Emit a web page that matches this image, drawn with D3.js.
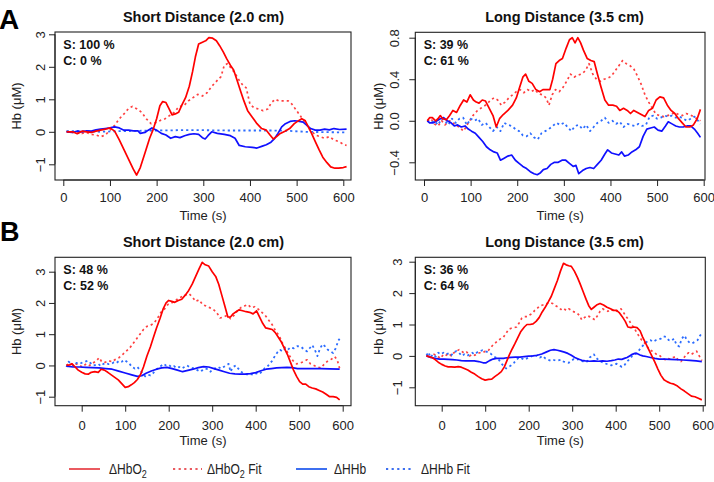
<!DOCTYPE html>
<html><head><meta charset="utf-8">
<script src="https://cdn.jsdelivr.net/npm/d3@7"></script>
<style>
html,body{margin:0;padding:0;background:#fff;}
svg{display:block;font-family:"Liberation Sans",Arial,Helvetica,sans-serif;}
</style></head>
<body>
<svg id="chart" width="714" height="482"></svg>
<script>
// ---------- DATA ----------
const panelTitles = ["Short Distance (2.0 cm)", "Long Distance (3.5 cm)", "Short Distance (2.0 cm)", "Long Distance (3.5 cm)"];
const panelLetters = ["A", "B"];
const sLabels = ["S: 100 %", "S: 39 %", "S: 48 %", "S: 36 %"];
const cLabels = ["C: 0 %", "C: 61 %", "C: 52 %", "C: 64 %"];
const xTicks = [0, 100, 200, 300, 400, 500, 600];
const yTicksAL = [-1, 0, 1, 2, 3];
const yTicksAR = [-0.4, 0.0, 0.4, 0.8];
const yTicksBL = [-1, 0, 1, 2, 3];
const yTicksBR = [-1, 0, 1, 2, 3];
const legendLabels = ["ΔHbO2", "ΔHbO2 Fit", "ΔHHb", "ΔHHb Fit"];

// Panel A, short distance
const aShortHbO2 = [[7,0],[20,0],[30,-0.06],[40,0.02],[50,0],[60,-0.02],[70,0.02],[80,0.05],[90,0.08],[100,0.12],[110,0.02],[120,-0.25],[130,-0.55],[140,-0.85],[150,-1.15],[157,-1.33],[165,-1.1],[175,-0.65],[185,-0.2],[192,0.05],[200,0.4],[207,0.8],[213,0.93],[220,0.9],[227,0.7],[233,0.52],[240,0.55],[247,0.6],[255,0.85],[262,1.05],[270,1.4],[277,1.85],[283,2.3],[290,2.7],[297,2.75],[305,2.8],[312,2.9],[320,2.88],[328,2.8],[335,2.65],[343,2.45],[350,2.25],[358,2.05],[365,1.9],[372,1.6],[380,1.25],[387,0.95],[395,0.65],[405,0.45],[415,0.25],[425,0.1],[435,0.05],[443,-0.1],[450,-0.22],[457,-0.15],[465,-0.05],[475,0.02],[485,0.1],[495,0.25],[505,0.35],[511,0.4],[518,0.35],[525,0.15],[532,-0.05],[540,-0.3],[548,-0.55],[556,-0.78],[565,-0.95],[573,-1.08],[582,-1.12],[590,-1.12],[600,-1.1],[607,-1.07]];
const aShortHbO2Fit = [[7,0.02],[20,-0.02],[30,0],[40,-0.05],[50,-0.02],[60,-0.08],[70,-0.1],[80,-0.15],[90,-0.1],[100,0.05],[110,0.2],[120,0.4],[130,0.55],[140,0.72],[148,0.78],[158,0.7],[168,0.6],[178,0.4],[188,0.25],[198,0.28],[208,0.35],[218,0.4],[228,0.5],[238,0.6],[248,0.78],[258,0.8],[268,0.95],[278,1.05],[288,1.15],[298,1.1],[308,1.2],[318,1.4],[328,1.55],[338,1.7],[345,2.05],[352,2.1],[360,1.95],[368,1.8],[376,1.6],[384,1.45],[392,1.35],[400,0.85],[408,0.75],[418,0.7],[428,0.65],[438,0.7],[446,0.9],[454,1.0],[462,0.95],[472,0.95],[482,0.95],[490,0.85],[500,0.65],[510,0.45],[520,0.25],[530,0.05],[540,-0.1],[550,-0.15],[560,-0.2],[570,-0.15],[580,-0.25],[590,-0.3],[600,-0.38],[607,-0.42]];
const aShortHHb = [[7,0],[20,-0.02],[30,0.02],[40,0],[50,0.03],[60,0.02],[70,0.06],[80,0.08],[90,0.1],[100,0.12],[110,0.15],[120,0.12],[130,0.05],[140,0.05],[150,0.03],[160,0.03],[165,-0.05],[175,-0.02],[182,0.05],[190,0.12],[200,0.05],[210,-0.05],[220,-0.1],[230,-0.2],[240,-0.15],[250,-0.18],[260,-0.12],[270,-0.08],[280,-0.06],[290,-0.08],[298,-0.18],[304,-0.22],[310,-0.12],[318,0],[330,-0.05],[345,-0.08],[358,-0.12],[368,-0.2],[377,-0.42],[390,-0.46],[405,-0.48],[415,-0.5],[425,-0.45],[435,-0.4],[445,-0.32],[452,-0.22],[460,-0.05],[468,0.15],[476,0.25],[486,0.32],[496,0.34],[506,0.32],[514,0.3],[522,0.2],[530,0.1],[540,0.05],[550,0.05],[560,0.08],[570,0.06],[580,0.1],[592,0.07],[607,0.08]];
const aShortHHbFit = [[7,0.02],[40,0.02],[80,0.0],[120,0.02],[160,0.03],[200,0.04],[250,0.05],[300,0.05],[350,0.04],[400,0.04],[450,0.04],[480,0.03],[520,0.0],[560,-0.01],[607,-0.02]];

// Panel A, long distance
const aLongHbO2 = [[7,0],[12,0.03],[18,0.03],[25,0],[30,0.02],[35,0.05],[40,0.02],[48,0.01],[55,0.05],[62,0.1],[70,0.08],[78,0.15],[85,0.2],[92,0.18],[99,0.25],[106,0.2],[112,0.18],[118,0.17],[125,0.2],[132,0.19],[140,0.12],[148,0.05],[155,-0.06],[162,0.02],[170,0.06],[180,0.1],[190,0.15],[198,0.22],[205,0.32],[212,0.42],[218,0.45],[225,0.38],[232,0.36],[240,0.3],[248,0.28],[255,0.3],[262,0.3],[270,0.3],[276,0.4],[283,0.55],[290,0.58],[297,0.6],[305,0.7],[312,0.78],[318,0.8],[324,0.75],[330,0.8],[336,0.75],[342,0.68],[350,0.6],[358,0.58],[365,0.57],[372,0.45],[380,0.32],[388,0.2],[396,0.15],[405,0.15],[413,0.14],[420,0.1],[428,0.12],[436,0.1],[443,0.07],[450,0.1],[458,0.08],[466,0.06],[474,0.04],[482,0.1],[490,0.12],[498,0.2],[506,0.23],[514,0.22],[522,0.15],[530,0.1],[538,0.07],[546,0.02],[554,-0.02],[562,-0.06],[570,-0.06],[578,-0.04],[586,0.02],[593,0.11]];
const aLongHbO2Fit = [[7,0],[15,0.02],[22,-0.03],[30,-0.05],[38,0],[45,-0.04],[55,0],[65,-0.03],[75,-0.06],[85,-0.1],[95,-0.02],[105,0.05],[115,0.1],[125,0.13],[135,0.16],[143,0.2],[150,0.22],[158,0.2],[166,0.15],[174,0.18],[182,0.22],[190,0.25],[198,0.28],[206,0.3],[214,0.27],[222,0.3],[230,0.28],[238,0.3],[246,0.26],[254,0.25],[262,0.22],[268,0.15],[275,0.25],[282,0.3],[290,0.28],[298,0.32],[306,0.38],[314,0.45],[322,0.42],[330,0.44],[338,0.45],[346,0.48],[354,0.55],[362,0.45],[370,0.4],[378,0.38],[386,0.4],[394,0.41],[402,0.43],[410,0.48],[418,0.53],[426,0.58],[434,0.55],[442,0.53],[450,0.5],[458,0.43],[466,0.35],[474,0.25],[482,0.18],[490,0.12],[498,0.06],[506,0.05],[514,0.04],[522,0.05],[530,0.06],[538,0.08],[546,0.06],[554,0.05],[562,0.07],[570,0.06],[578,0.04],[586,0.02],[593,0.0]];
const aLongHHb = [[7,0],[12,-0.02],[20,-0.02],[28,0.0],[35,0.02],[42,0.03],[50,0.0],[58,-0.02],[65,-0.05],[72,-0.04],[80,-0.06],[88,-0.05],[95,-0.08],[102,-0.1],[110,-0.12],[118,-0.16],[126,-0.2],[134,-0.25],[142,-0.28],[150,-0.3],[157,-0.31],[164,-0.38],[172,-0.36],[180,-0.34],[188,-0.33],[196,-0.38],[204,-0.41],[212,-0.44],[220,-0.46],[228,-0.49],[236,-0.51],[243,-0.52],[250,-0.5],[256,-0.47],[264,-0.46],[272,-0.42],[280,-0.4],[288,-0.4],[296,-0.38],[304,-0.38],[312,-0.41],[320,-0.44],[326,-0.43],[332,-0.51],[340,-0.48],[348,-0.46],[356,-0.45],[364,-0.46],[372,-0.42],[380,-0.38],[388,-0.32],[394,-0.28],[402,-0.31],[410,-0.32],[418,-0.33],[424,-0.3],[430,-0.34],[438,-0.33],[446,-0.3],[454,-0.28],[462,-0.25],[470,-0.15],[478,-0.08],[486,-0.07],[494,-0.06],[502,-0.09],[510,-0.1],[518,-0.05],[524,-0.01],[532,-0.03],[540,-0.05],[548,-0.06],[556,-0.06],[564,-0.05],[572,-0.05],[580,-0.08],[587,-0.12],[593,-0.16]];
const aLongHHbFit = [[7,0],[15,-0.02],[22,0],[30,-0.04],[38,0.02],[45,0.0],[52,-0.04],[60,0.02],[68,-0.02],[76,0.02],[84,0.03],[92,-0.04],[100,0.02],[108,0.0],[116,0.02],[124,-0.04],[132,-0.02],[140,-0.06],[148,-0.1],[156,-0.06],[164,-0.1],[172,-0.02],[180,-0.04],[188,-0.05],[196,-0.08],[204,-0.1],[212,-0.14],[220,-0.15],[228,-0.12],[236,-0.16],[244,-0.18],[252,-0.12],[260,-0.1],[268,-0.08],[276,-0.05],[284,-0.02],[292,-0.04],[300,-0.02],[308,-0.06],[316,-0.1],[324,-0.05],[332,-0.04],[340,-0.08],[348,-0.04],[356,-0.1],[364,-0.06],[372,-0.02],[380,0.0],[388,0.03],[396,-0.02],[404,0.0],[412,-0.03],[420,-0.01],[428,-0.06],[436,-0.03],[444,-0.04],[452,-0.05],[460,-0.03],[468,-0.05],[476,-0.04],[484,0.04],[492,0.05],[500,0.02],[508,0.03],[516,0.05],[524,0.04],[532,0.05],[540,0.03],[548,0.04],[556,0.02],[564,0.0],[572,0.02],[580,0.04],[588,0.0],[593,-0.03]];

// Panel B, short distance
const bShortHbO2 = [[-35,0],[-28,0.02],[-22,0.05],[-15,-0.05],[-8,-0.15],[0,-0.22],[8,-0.27],[15,-0.28],[22,-0.22],[30,-0.2],[38,-0.22],[45,-0.12],[52,-0.15],[60,-0.22],[68,-0.3],[76,-0.38],[84,-0.46],[92,-0.58],[100,-0.7],[107,-0.68],[114,-0.62],[121,-0.55],[128,-0.45],[135,-0.3],[142,-0.05],[150,0.3],[158,0.6],[165,0.9],[172,1.2],[180,1.5],[187,1.8],[194,2.0],[200,2.08],[207,2.05],[214,2.02],[222,2.08],[230,2.12],[238,2.25],[246,2.4],[254,2.6],[262,2.85],[270,3.1],[277,3.3],[284,3.22],[292,3.18],[300,3.0],[308,2.85],[315,2.6],[322,2.25],[329,1.9],[336,1.55],[342,1.55],[348,1.65],[355,1.72],[362,1.78],[370,1.75],[378,1.72],[386,1.7],[394,1.65],[402,1.75],[409,1.55],[416,1.35],[423,1.2],[430,1.18],[438,1.15],[445,1.05],[452,0.9],[459,0.75],[466,0.55],[473,0.35],[480,0.1],[487,-0.15],[494,-0.35],[501,-0.52],[508,-0.6],[515,-0.6],[522,-0.68],[530,-0.72],[538,-0.75],[546,-0.8],[554,-0.85],[562,-0.92],[570,-1.0],[578,-1.0],[586,-1.02],[593,-1.1]];
const bShortHbO2Fit = [[-35,0],[-28,0.08],[-20,0.02],[-12,0.05],[-5,0.0],[2,-0.05],[10,0.05],[18,0.0],[26,0.08],[34,0.15],[40,0.25],[46,0.12],[54,0.1],[62,0.15],[70,0.12],[78,0.2],[86,0.25],[94,0.35],[102,0.45],[110,0.55],[118,0.7],[126,0.85],[134,1.0],[142,1.15],[150,1.25],[158,1.28],[166,1.35],[174,1.5],[182,1.7],[190,1.8],[198,1.95],[206,2.0],[214,2.05],[222,2.15],[230,2.2],[238,2.25],[246,2.3],[254,2.2],[262,2.05],[270,2.1],[278,1.95],[286,1.9],[294,1.85],[302,1.8],[310,1.7],[318,1.52],[326,1.55],[334,1.6],[342,1.5],[350,1.6],[358,1.75],[366,1.85],[374,1.9],[382,1.95],[390,1.85],[398,1.88],[406,1.8],[414,1.7],[422,1.6],[430,1.45],[438,1.3],[446,1.1],[454,0.95],[462,0.7],[470,0.5],[478,0.3],[486,0.15],[494,0.05],[502,0.08],[510,0.12],[518,0.18],[526,0.05],[534,0.0],[542,-0.05],[550,-0.08],[558,0.05],[566,0.15],[574,0.2],[582,0.28],[588,0.15],[593,-0.1]];
const bShortHHb = [[-35,-0.02],[-20,-0.05],[-5,-0.05],[10,-0.06],[25,-0.07],[40,-0.08],[55,-0.1],[70,-0.12],[85,-0.18],[100,-0.24],[115,-0.3],[128,-0.35],[138,-0.33],[148,-0.25],[160,-0.18],[172,-0.12],[184,-0.08],[196,-0.06],[208,-0.1],[220,-0.15],[232,-0.2],[244,-0.16],[256,-0.12],[268,-0.07],[280,-0.04],[292,-0.05],[304,-0.1],[316,-0.15],[328,-0.2],[340,-0.25],[352,-0.27],[364,-0.28],[376,-0.28],[388,-0.26],[400,-0.23],[412,-0.17],[424,-0.12],[436,-0.1],[448,-0.08],[460,-0.07],[472,-0.06],[484,-0.07],[496,-0.1],[510,-0.1],[530,-0.1],[550,-0.1],[570,-0.11],[593,-0.12]];
const bShortHHbFit = [[-35,-0.05],[-30,0.12],[-24,0.05],[-18,-0.02],[-12,0.08],[-5,0.05],[2,0.1],[8,0.12],[14,0.15],[20,0.08],[26,0.0],[32,0.02],[38,0.05],[44,-0.02],[50,0.05],[56,0.08],[62,0.04],[68,0.05],[74,0.1],[80,0.08],[86,0.15],[92,0.12],[98,0.18],[104,0.12],[110,0.05],[116,-0.05],[122,-0.1],[128,-0.05],[134,-0.15],[140,-0.25],[146,-0.35],[152,-0.3],[158,-0.32],[164,-0.25],[170,-0.15],[176,-0.08],[182,-0.02],[188,0.05],[194,0.0],[200,0.02],[206,-0.05],[212,-0.02],[218,-0.08],[224,-0.05],[230,-0.1],[236,-0.05],[242,0.0],[248,-0.05],[254,-0.08],[260,-0.1],[266,-0.15],[272,-0.2],[278,-0.15],[284,-0.1],[290,-0.12],[296,-0.2],[302,-0.12],[308,-0.08],[314,-0.05],[320,-0.1],[326,-0.05],[332,0.0],[338,0.05],[342,-0.2],[348,-0.05],[354,0.0],[360,-0.1],[366,-0.2],[372,-0.25],[378,-0.28],[384,-0.3],[390,-0.28],[396,-0.3],[402,-0.25],[408,-0.28],[414,-0.2],[420,-0.1],[426,-0.05],[432,0.05],[438,0.15],[444,0.3],[450,0.42],[456,0.5],[462,0.45],[468,0.55],[474,0.5],[480,0.58],[488,0.55],[496,0.62],[504,0.6],[512,0.5],[518,0.45],[524,0.55],[530,0.65],[536,0.5],[542,0.3],[548,0.55],[554,0.68],[560,0.6],[566,0.5],[572,0.45],[578,0.4],[584,0.55],[590,0.8],[593,0.85]];

// Panel B, long distance
const bLongHbO2 = [[-35,0],[-28,-0.03],[-22,-0.05],[-15,-0.12],[-8,-0.2],[0,-0.27],[8,-0.32],[15,-0.35],[22,-0.35],[30,-0.36],[38,-0.34],[45,-0.36],[52,-0.4],[60,-0.45],[68,-0.52],[76,-0.58],[84,-0.66],[92,-0.73],[100,-0.77],[108,-0.75],[115,-0.74],[122,-0.66],[130,-0.58],[137,-0.5],[144,-0.35],[150,-0.15],[156,0.05],[162,0.22],[168,0.38],[175,0.58],[182,0.78],[190,0.92],[196,1.0],[203,1.0],[210,1.02],[217,1.1],[224,1.22],[231,1.4],[238,1.55],[245,1.72],[252,1.9],[259,2.15],[266,2.4],[273,2.7],[280,2.95],[286,2.9],[292,2.87],[298,2.85],[305,2.7],[312,2.5],[318,2.3],[325,2.05],[332,1.8],[338,1.6],[344,1.48],[350,1.55],[356,1.62],[364,1.67],[372,1.62],[380,1.55],[388,1.5],[395,1.45],[402,1.45],[408,1.38],[415,1.25],[422,1.1],[428,0.92],[435,0.9],[442,0.92],[449,0.9],[456,0.8],[462,0.6],[469,0.4],[476,0.2],[483,0.0],[490,-0.2],[497,-0.42],[504,-0.62],[511,-0.76],[518,-0.82],[526,-0.87],[534,-0.9],[542,-0.96],[550,-1.05],[558,-1.12],[566,-1.2],[574,-1.28],[582,-1.3],[590,-1.35],[598,-1.4]];
const bLongHbO2Fit = [[-35,0],[-30,0.05],[-25,-0.05],[-18,0.05],[-10,0.0],[-3,-0.08],[4,0.05],[10,0.02],[16,0.08],[22,0.0],[28,0.1],[34,0.15],[40,0.2],[46,0.15],[52,0.08],[58,0.12],[64,0.0],[70,0.05],[76,0.02],[82,0.08],[88,0.1],[94,0.1],[100,0.15],[106,0.15],[112,0.25],[118,0.35],[124,0.42],[130,0.5],[136,0.55],[142,0.6],[148,0.72],[154,0.85],[160,0.88],[166,0.9],[172,0.92],[178,1.05],[184,1.2],[190,1.25],[196,1.25],[202,1.3],[208,1.35],[214,1.45],[220,1.52],[226,1.6],[232,1.62],[238,1.65],[244,1.68],[250,1.7],[256,1.66],[262,1.6],[268,1.55],[274,1.48],[280,1.52],[286,1.45],[292,1.5],[298,1.45],[304,1.4],[310,1.38],[316,1.3],[322,1.15],[328,1.22],[334,1.28],[340,1.25],[346,1.2],[352,1.15],[358,1.28],[364,1.42],[370,1.5],[376,1.45],[382,1.42],[388,1.48],[394,1.45],[400,1.4],[406,1.48],[412,1.5],[418,1.38],[424,1.25],[430,1.15],[436,1.0],[442,0.9],[448,0.75],[454,0.62],[460,0.5],[466,0.42],[472,0.3],[478,0.2],[484,0.15],[490,0.1],[496,0.02],[502,0.0],[508,-0.08],[514,-0.12],[520,-0.08],[526,-0.1],[532,-0.05],[538,-0.02],[544,-0.15],[550,-0.18],[556,-0.08],[562,0.05],[568,0.1],[574,0.05],[580,0.1],[586,0.15],[592,0.0],[598,-0.15]];
const bLongHHb = [[-35,0],[-25,-0.05],[-15,-0.08],[-5,-0.1],[5,-0.1],[15,-0.11],[25,-0.12],[35,-0.13],[45,-0.15],[55,-0.16],[65,-0.16],[75,-0.16],[85,-0.18],[95,-0.22],[102,-0.22],[110,-0.15],[118,-0.1],[126,-0.08],[134,-0.08],[142,-0.08],[150,-0.06],[160,-0.05],[170,-0.04],[180,-0.04],[190,-0.02],[200,-0.01],[210,0.0],[220,0.02],[230,0.06],[240,0.12],[250,0.18],[258,0.2],[266,0.18],[274,0.15],[282,0.12],[290,0.08],[298,0.02],[306,-0.05],[314,-0.1],[322,-0.14],[330,-0.16],[340,-0.17],[350,-0.16],[360,-0.17],[370,-0.16],[380,-0.17],[390,-0.15],[398,-0.13],[406,-0.1],[414,-0.11],[420,-0.08],[426,-0.05],[432,0.0],[438,0.05],[444,0.08],[450,0.07],[456,0.03],[462,0.0],[470,-0.02],[480,-0.05],[490,-0.08],[500,-0.1],[512,-0.1],[525,-0.11],[540,-0.12],[555,-0.13],[570,-0.14],[585,-0.16],[598,-0.18]];
const bLongHHbFit = [[-35,0.02],[-30,0.12],[-26,-0.05],[-20,0.05],[-14,-0.02],[-8,0.1],[-2,0.05],[4,0.1],[10,0.05],[16,0.08],[22,0.02],[28,0.12],[34,0.15],[40,0.1],[46,0.0],[52,0.05],[58,0.0],[64,0.05],[70,0.1],[76,0.05],[82,0.12],[88,0.15],[94,0.18],[100,0.15],[106,0.12],[112,0.08],[118,0.0],[124,-0.05],[130,-0.1],[136,-0.22],[142,-0.32],[148,-0.4],[154,-0.35],[160,-0.3],[166,-0.22],[172,-0.12],[178,-0.05],[184,-0.08],[190,-0.12],[196,-0.08],[202,-0.05],[208,0.0],[214,-0.02],[220,0.02],[226,-0.05],[232,0.0],[238,-0.08],[244,-0.12],[250,-0.15],[256,-0.12],[262,-0.15],[268,-0.14],[274,-0.12],[280,-0.18],[286,-0.2],[292,-0.22],[298,-0.15],[304,-0.1],[310,-0.12],[316,-0.1],[322,-0.15],[328,-0.2],[334,-0.18],[340,-0.05],[346,0.0],[350,0.05],[354,-0.05],[360,-0.12],[366,-0.18],[372,-0.22],[378,-0.25],[384,-0.28],[390,-0.3],[396,-0.27],[402,-0.25],[408,-0.3],[414,-0.35],[420,-0.3],[426,-0.18],[432,-0.1],[438,0.0],[444,0.05],[450,0.12],[456,0.22],[462,0.32],[468,0.4],[474,0.48],[480,0.5],[486,0.45],[492,0.5],[498,0.52],[504,0.55],[510,0.62],[516,0.6],[522,0.5],[528,0.48],[534,0.55],[540,0.35],[546,0.3],[552,0.55],[558,0.65],[564,0.5],[570,0.42],[576,0.4],[582,0.45],[588,0.5],[594,0.65],[598,0.72]];

// ---------- LAYOUT ----------
const svg = d3.select("#chart");
const FONT = '"Liberation Sans",Arial,Helvetica,sans-serif';
const col = {
  hbo2: "#ff0000", hbo2Fit: "#ff4040", hhb: "#1010ff", hhbFit: "#2c6cff",
  legRed: "#ea5a60", legBlue: "#3d6ff0"
};

const panels = [
  { box:[55,32,351,180], xr:[63.3,343.3], yd:[-1,3], yr:[164.3,34.3], yt:yTicksAL, dec:0,
    tickX:45, labX:21, txtX:63.3, sY:49, xLabY:201.7, timeY:219.5, titleX:203.5, titleY:21.5,
    series:[aShortHbO2, aShortHbO2Fit, aShortHHb, aShortHHbFit] },
  { box:[415.3,32.3,705,180], xr:[424,703.7], yd:[-0.4,0.8], yr:[162.3,37.7], yt:yTicksAR, dec:1,
    tickX:398.7, labX:382.6, txtX:423.7, sY:49, xLabY:201.7, timeY:219.5, titleX:564.5, titleY:21.5,
    series:[aLongHbO2, aLongHbO2Fit, aLongHHb, aLongHHbFit] },
  { box:[55,257.3,351,405.7], xr:[81.7,342.7], yd:[-1,3], yr:[396.7,271.7], yt:yTicksBL, dec:0,
    tickX:45, labX:21, txtX:63.3, sY:274.3, xLabY:430, timeY:444.5, titleX:203.5, titleY:246.5,
    series:[bShortHbO2, bShortHbO2Fit, bShortHHb, bShortHHbFit] },
  { box:[415.3,257.3,705.3,405.7], xr:[441.7,702.7], yd:[-1,3], yr:[387.3,261.7], yt:yTicksBR, dec:0,
    tickX:402, labX:382.6, txtX:423.7, sY:274.3, xLabY:430, timeY:444.5, titleX:564.5, titleY:246.5,
    series:[bLongHbO2, bLongHbO2Fit, bLongHHb, bLongHHbFit] }
];

const styles = [
  { c: col.hbo2, w: 1.7, dash: null },
  { c: col.hbo2Fit, w: 1.7, dash: "2.2,3" },
  { c: col.hhb, w: 1.7, dash: null },
  { c: col.hhbFit, w: 1.8, dash: "2.2,3" }
];
const drawOrder = [1, 3, 2, 0];

panels.forEach((p, i) => {
  const [x0, y0, x1, y1] = p.box;
  const x = d3.scaleLinear().domain([0, 600]).range(p.xr);
  const y = d3.scaleLinear().domain(p.yd).range(p.yr);
  const g = svg.append("g");

  const clipId = "clip" + i;
  svg.append("defs").append("clipPath").attr("id", clipId)
    .append("rect").attr("x", x0).attr("y", y0).attr("width", x1 - x0).attr("height", y1 - y0);

  const line = d3.line().x(d => x(d[0])).y(d => y(d[1]));
  const plot = g.append("g").attr("clip-path", `url(#${clipId})`);
  drawOrder.forEach(k => {
    const st = styles[k];
    plot.append("path").datum(p.series[k])
      .attr("d", line)
      .attr("fill", "none")
      .attr("stroke", st.c)
      .attr("stroke-width", st.w)
      .attr("stroke-linejoin", "round")
      .attr("stroke-dasharray", st.dash);
  });

  // box
  g.append("rect").attr("x", x0).attr("y", y0).attr("width", x1 - x0).attr("height", y1 - y0)
    .attr("fill", "none").attr("stroke", "#222").attr("stroke-width", 1.1);

  // x axis
  const xa = g.append("g").attr("transform", `translate(0,${y1})`)
    .call(d3.axisBottom(x).tickValues(xTicks).tickSize(6).tickSizeOuter(0).tickFormat(d3.format("d")));
  xa.select(".domain").attr("stroke", "#222").attr("d", `M${x(0)},0H${x(600)}`);
  xa.selectAll(".tick line").attr("stroke", "#222");
  xa.selectAll(".tick text").attr("y", null).attr("dy", null)
    .attr("transform", `translate(0,${p.xLabY - y1})`)
    .attr("font-size", 13).attr("font-family", FONT).attr("fill", "#222");

  // y axis
  const yf = v => {
    const s = p.dec ? v.toFixed(1) : String(v);
    return s.replace("-", "\u2212");
  };
  const ya = g.append("g").attr("transform", `translate(${x0},0)`)
    .call(d3.axisLeft(y).tickValues(p.yt).tickSize(6).tickSizeOuter(0).tickFormat(yf));
  ya.select(".domain").attr("stroke", "#222")
    .attr("d", `M0,${y(p.yt[0])}V${y(p.yt[p.yt.length - 1])}`);
  ya.selectAll(".tick line").attr("stroke", "#222");
  ya.selectAll(".tick text")
    .attr("x", null).attr("dy", null)
    .attr("transform", `translate(${p.tickX - x0},0) rotate(-90)`)
    .attr("text-anchor", "middle")
    .attr("font-size", 13).attr("font-family", FONT).attr("fill", "#222");

  // labels
  g.append("text").attr("x", p.titleX).attr("y", p.titleY).attr("text-anchor", "middle")
    .attr("font-size", 14.5).attr("font-weight", "bold").attr("fill", "#111").text(panelTitles[i]);
  g.append("text").attr("x", (x0 + x1) / 2).attr("y", p.timeY).attr("text-anchor", "middle")
    .attr("font-size", 13).attr("fill", "#222").text("Time (s)");
  g.append("text").attr("transform", `translate(${p.labX},${(y0 + y1) / 2}) rotate(-90)`)
    .attr("text-anchor", "middle").attr("font-size", 13).attr("fill", "#222").text("Hb (μM)");
  g.append("text").attr("x", p.txtX).attr("y", p.sY).attr("font-size", 12.5)
    .attr("font-weight", "bold").attr("fill", "#111").text(sLabels[i]);
  g.append("text").attr("x", p.txtX).attr("y", p.sY + 15.5).attr("font-size", 12.5)
    .attr("font-weight", "bold").attr("fill", "#111").text(cLabels[i]);
});

// panel letters
svg.append("text").attr("x", -1).attr("y", 28.5).attr("font-size", 28).attr("font-weight", "bold")
  .attr("fill", "#000").text(panelLetters[0]);
svg.append("text").attr("x", 0).attr("y", 240.5).attr("font-size", 27).attr("font-weight", "bold")
  .attr("fill", "#000").text(panelLetters[1]);

// legend
const legItems = [
  { x1: 69, x2: 100, tx: 109, c: col.legRed, dash: null },
  { x1: 173, x2: 202, tx: 207, c: col.legRed, dash: "2.2,3.4" },
  { x1: 296, x2: 327, tx: 334, c: col.legBlue, dash: null },
  { x1: 386, x2: 413, tx: 421, c: col.legBlue, dash: "2.2,3.4" }
];
const legY = 469;
legItems.forEach((it, i) => {
  svg.append("line").attr("x1", it.x1).attr("x2", it.x2).attr("y1", legY).attr("y2", legY)
    .attr("stroke", it.c).attr("stroke-width", 2).attr("stroke-dasharray", it.dash);
  const t = svg.append("text").attr("transform", `translate(${it.tx},${legY + 5}) scale(0.86,1)`)
    .attr("font-size", 14).attr("fill", "#222");
  const lab = legendLabels[i];
  const m = lab.match(/^(ΔHbO)2(.*)$/);
  if (m) {
    t.append("tspan").text(m[1]);
    t.append("tspan").attr("font-size", 10.5).attr("dy", 4).text("2");
    if (m[2]) t.append("tspan").attr("dy", -4).text(m[2]);
  } else {
    t.text(lab);
  }
});
</script>
</body></html>
